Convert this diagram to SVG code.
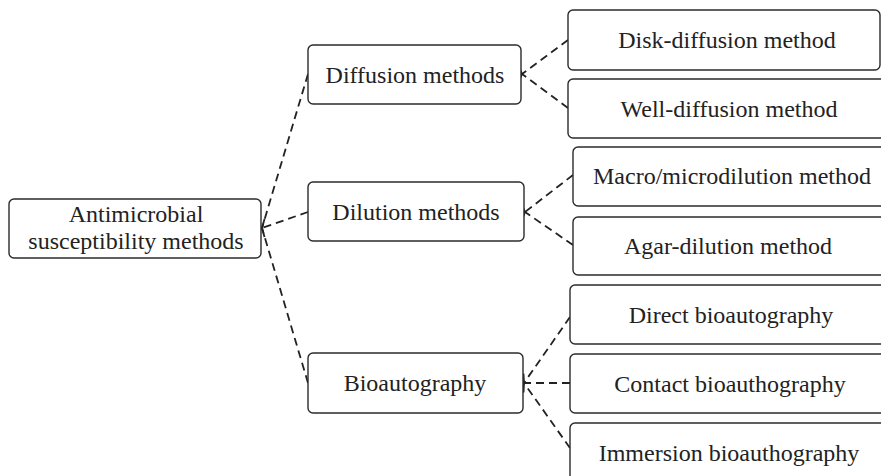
<svg xmlns="http://www.w3.org/2000/svg" width="881" height="476" viewBox="0 0 881 476">
<style>
rect.box{fill:#fff;stroke:#2b2b2b;stroke-width:1.4}
text{font-family:"Liberation Serif","Times New Roman",serif;font-size:24px;fill:#222;text-anchor:middle}
.conn path{fill:none;stroke:#222;stroke-width:1.8;stroke-dasharray:8 5}
</style>
<defs>
<marker id="arr" viewBox="0 0 10 12" refX="1" refY="6" markerWidth="10" markerHeight="12" markerUnits="userSpaceOnUse" orient="auto">
<path d="M9,1 L1,6 L9,11" fill="none" stroke="#222" stroke-width="1.8"/>
</marker>
</defs>
<rect width="881" height="476" fill="#fff"/>
<g class="conn">
<path d="M308,74 L262,228" marker-end="url(#arr)"/>
<path d="M308,212 L262,228" marker-end="url(#arr)"/>
<path d="M308,383 L262,228" marker-end="url(#arr)"/>
<path d="M568,40 L522,74" marker-end="url(#arr)"/>
<path d="M568,108 L522,74" marker-end="url(#arr)"/>
<path d="M573,175 L525,212" marker-end="url(#arr)"/>
<path d="M573,245 L525,212" marker-end="url(#arr)"/>
<path d="M570,317 L524,383" marker-end="url(#arr)"/>
<path d="M570,383 L524,383" marker-end="url(#arr)"/>
<path d="M570,448 L524,383" marker-end="url(#arr)"/>
</g>
<g id="root"><rect class="box" x="9" y="199" width="252" height="59" rx="5"/><text x="136" y="222">Antimicrobial</text><text x="136" y="249">susceptibility methods</text></g>
<g id="diffusion"><rect class="box" x="308" y="45" width="213" height="59" rx="5"/><text x="415" y="83">Diffusion methods</text></g>
<g id="dilution"><rect class="box" x="308" y="182" width="216" height="59" rx="5"/><text x="416" y="220">Dilution methods</text></g>
<g id="bioautography"><rect class="box" x="308" y="353" width="215" height="60" rx="5"/><text x="415" y="391">Bioautography</text></g>
<g id="disk"><rect class="box" x="568" y="10" width="312" height="60" rx="5"/><text x="727" y="48">Disk-diffusion method</text></g>
<g id="well"><rect class="box" x="568" y="79" width="330" height="59" rx="5"/><text x="729" y="117">Well-diffusion method</text></g>
<g id="macro"><rect class="box" x="573" y="147" width="330" height="59" rx="5"/><text x="732" y="184">Macro/microdilution method</text></g>
<g id="agar"><rect class="box" x="573" y="217" width="330" height="58" rx="5"/><text x="728" y="254">Agar-dilution method</text></g>
<g id="direct"><rect class="box" x="570" y="285" width="330" height="59" rx="5"/><text x="731" y="323">Direct bioautography</text></g>
<g id="contact"><rect class="box" x="570" y="354" width="330" height="59" rx="5"/><text x="730" y="392">Contact bioauthography</text></g>
<g id="immersion"><rect class="box" x="570" y="423" width="330" height="70" rx="5"/><text x="729" y="461">Immersion bioauthography</text></g>
</svg>
